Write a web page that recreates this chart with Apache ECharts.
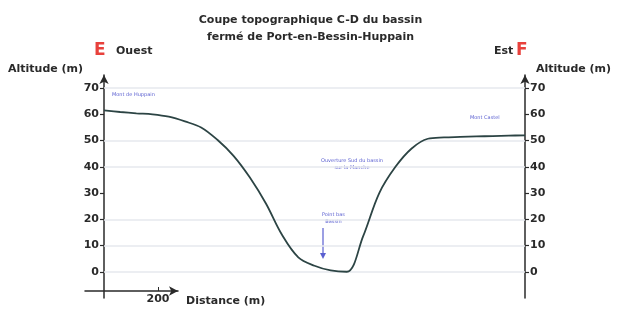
<!DOCTYPE html>
<html>
<head>
<meta charset="utf-8">
<script src="https://cdn.jsdelivr.net/npm/echarts@6/dist/echarts.min.js"></script>
<style>
  html, body { margin: 0; padding: 0; background: #fff; }
  #main { width: 621px; height: 318px; }
</style>
</head>
<body>
<div id="main"></div>
<script>
// profile: distance (m) and altitude (m), every 60 m
const distances = [0, 60, 120, 180, 240, 300, 360, 420, 480, 540, 600, 660, 720, 780, 840, 900, 960, 1020, 1080, 1140, 1200, 1260, 1320, 1380, 1440, 1500, 1560];
const altitudes = [61.5, 60.9, 60.4, 60, 59.1, 57.3, 55, 50.3, 44.2, 36, 26, 14, 5.5, 2.3, 0.5, 0, 13.5, 30, 40, 47, 50.7, 51.2, 51.4, 51.6, 51.7, 51.9, 52];
const altTicks = [0, 10, 20, 30, 40, 50, 60, 70];
const gridLevels = [0, 10, 20, 40, 50, 70];
const distTicks = [200];

const font = 'DejaVu Sans';
const ink = '#2a2a2a';
const blue = '#5a5fd0';

let myChart = echarts.init(document.getElementById('main'));

const yAxisCommon = {
    type: 'value',
    gridIndex: 0,
    min: -10,
    max: 75,
    interval: 10,
    splitLine: { show: false },
    axisLine: { show: true, symbol: ['none', 'arrow'], symbolSize: [7, 9], lineStyle: { color: ink, width: 1.5 } },
    axisTick: { show: true, customValues: altTicks, length: 4, lineStyle: { color: ink, width: 1.2 } },
    axisLabel: { customValues: altTicks, color: ink, fontFamily: font, fontWeight: 'bold', fontSize: 11, margin: 5 }
};

const option = {
    animation: false,
    grid: [
        { left: 104, right: 96, top: 75, bottom: 20 },
        { left: 85, width: 93, bottom: 27, height: 10 }
    ],
    xAxis: [
        { type: 'value', gridIndex: 0, min: 0, max: 1560, show: false },
        {
            type: 'value', gridIndex: 1, min: -70, max: 274,
            splitLine: { show: false },
            axisLine: { show: true, symbol: ['none', 'arrow'], symbolSize: [7, 9], lineStyle: { color: ink, width: 1.5 } },
            axisTick: { show: true, inside: true, customValues: distTicks, length: 4, lineStyle: { color: ink } },
            axisLabel: { customValues: distTicks, color: ink, fontFamily: font, fontWeight: 'bold', fontSize: 11, margin: 3 }
        }
    ],
    yAxis: [
        Object.assign({}, yAxisCommon, { position: 'left' }),
        Object.assign({}, yAxisCommon, { position: 'right' }),
        { type: 'value', gridIndex: 1, show: false }
    ],
    series: [{
        type: 'line',
        xAxisIndex: 0,
        yAxisIndex: 0,
        smooth: 0.35,
        symbol: 'none',
        z: 3,
        lineStyle: { color: '#2c4444', width: 1.8 },
        data: distances.map((d, i) => [d, altitudes[i]]),
        markLine: {
            silent: true,
            symbol: 'none',
            z: 1,
            label: { show: false },
            lineStyle: { color: '#e6e9ee', type: 'solid', width: 1.5 },
            data: gridLevels.map(v => ({ yAxis: v }))
        }
    }],
    graphic: [
        { type: 'text', left: 'center', top: 12, style: { text: 'Coupe topographique C-D du bassin\nfermé de Port-en-Bessin-Huppain', font: 'bold 11px "DejaVu Sans"', fill: ink, textAlign: 'center', lineHeight: 17 } },
        { type: 'text', left: 94, top: 42, style: { text: 'E', font: 'bold 17px "DejaVu Sans"', fill: '#e8413c' } },
        { type: 'text', left: 116, top: 46, style: { text: 'Ouest', font: 'bold 11px "DejaVu Sans"', fill: ink } },
        { type: 'text', left: 494, top: 46, style: { text: 'Est', font: 'bold 11px "DejaVu Sans"', fill: ink } },
        { type: 'text', left: 516, top: 42, style: { text: 'F', font: 'bold 17px "DejaVu Sans"', fill: '#e8413c' } },
        { type: 'text', left: 8, top: 64, style: { text: 'Altitude (m)', font: 'bold 11px "DejaVu Sans"', fill: ink } },
        { type: 'text', left: 536, top: 64, style: { text: 'Altitude (m)', font: 'bold 11px "DejaVu Sans"', fill: ink } },
        { type: 'text', left: 186, top: 296, style: { text: 'Distance (m)', font: 'bold 11px "DejaVu Sans"', fill: ink } },
        { type: 'text', left: 112, top: 92, style: { text: 'Mont de Huppain', font: '5px "DejaVu Sans"', fill: blue } },
        { type: 'text', left: 470, top: 115, style: { text: 'Mont Castel', font: '5px "DejaVu Sans"', fill: blue } },
        { type: 'text', left: 321, top: 157, style: { text: 'Ouverture Sud du bassin\nsur la Manche', font: '5px "DejaVu Sans"', fill: blue, textAlign: 'center', lineHeight: 7 } },
        { type: 'text', left: 322, top: 211, style: { text: 'Point bas\nBassin', font: '5px "DejaVu Sans"', fill: blue, textAlign: 'center', lineHeight: 7 } },
        { type: 'line', shape: { x1: 323, y1: 228, x2: 323, y2: 256 }, style: { stroke: blue, lineWidth: 1.2 } },
        { type: 'polygon', shape: { points: [[320, 253], [326, 253], [323, 259]] }, style: { fill: blue } }
    ]
};

myChart.setOption(option);
</script>
</body>
</html>
